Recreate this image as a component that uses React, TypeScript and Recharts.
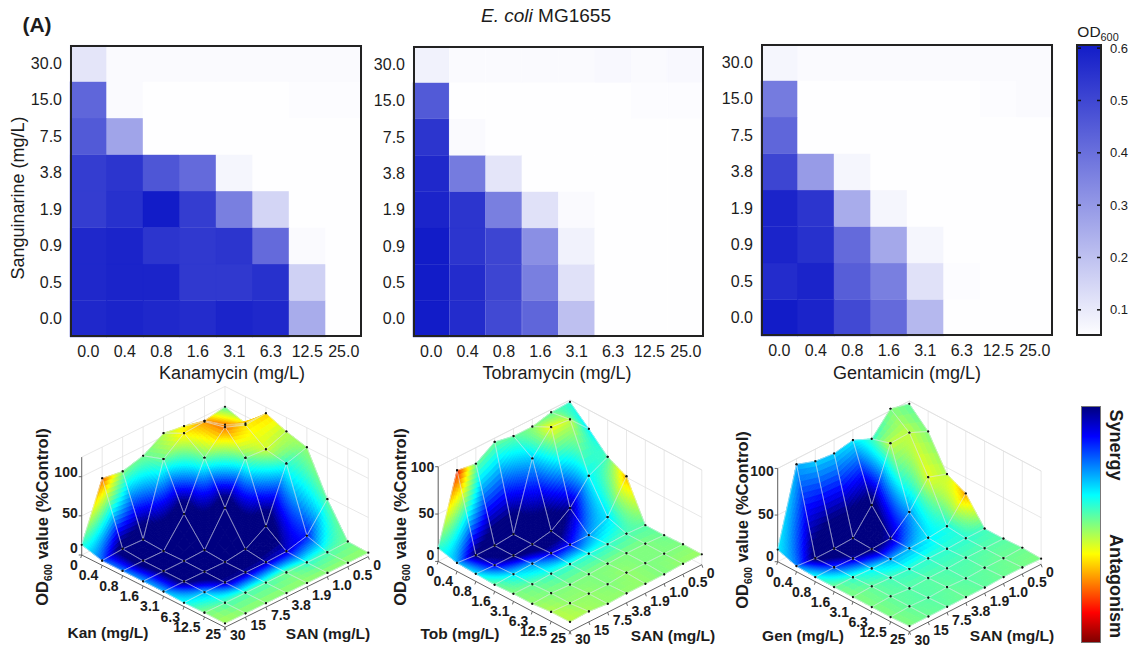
import { Bar, BarChart, Cell, Scatter, ScatterChart, XAxis, YAxis } from "recharts";

// Checkerboard axes
const sanLabels = ["0.0", "0.5", "0.9", "1.9", "3.8", "7.5", "15.0", "30.0"];
const doseLabels = ["0.0", "0.4", "0.8", "1.6", "3.1", "6.3", "12.5", "25.0"];

// OD600 per cell, rows from SAN 0.0 up to 30.0, columns from 0.0 to 25.0
const kanOd = [
  [0.57, 0.58, 0.57, 0.56, 0.58, 0.57, 0.25, 0.05],
  [0.57, 0.58, 0.58, 0.53, 0.53, 0.55, 0.16, 0.05],
  [0.57, 0.58, 0.54, 0.53, 0.54, 0.41, 0.06, 0.05],
  [0.52, 0.55, 0.6, 0.52, 0.36, 0.15, 0.05, 0.05],
  [0.52, 0.54, 0.46, 0.41, 0.07, 0.05, 0.05, 0.05],
  [0.45, 0.27, 0.05, 0.05, 0.05, 0.05, 0.05, 0.05],
  [0.42, 0.06, 0.05, 0.05, 0.05, 0.05, 0.055, 0.055],
  [0.11, 0.06, 0.06, 0.06, 0.06, 0.06, 0.06, 0.06],
];
const tobOd = [
  [0.6, 0.56, 0.49, 0.42, 0.2, 0.05, 0.05, 0.05],
  [0.6, 0.56, 0.5, 0.36, 0.12, 0.05, 0.05, 0.05],
  [0.6, 0.54, 0.5, 0.32, 0.08, 0.05, 0.05, 0.05],
  [0.58, 0.54, 0.36, 0.12, 0.06, 0.05, 0.05, 0.05],
  [0.57, 0.37, 0.11, 0.05, 0.05, 0.05, 0.05, 0.05],
  [0.54, 0.06, 0.05, 0.05, 0.05, 0.05, 0.05, 0.05],
  [0.45, 0.05, 0.05, 0.05, 0.05, 0.05, 0.055, 0.055],
  [0.08, 0.06, 0.06, 0.06, 0.06, 0.065, 0.06, 0.065],
];
const genOd = [
  [0.6, 0.58, 0.49, 0.41, 0.22, 0.05, 0.05, 0.05],
  [0.56, 0.58, 0.44, 0.36, 0.12, 0.055, 0.05, 0.05],
  [0.58, 0.55, 0.41, 0.26, 0.07, 0.05, 0.05, 0.05],
  [0.58, 0.54, 0.25, 0.07, 0.05, 0.05, 0.05, 0.05],
  [0.5, 0.29, 0.07, 0.05, 0.05, 0.05, 0.05, 0.05],
  [0.42, 0.05, 0.05, 0.05, 0.05, 0.05, 0.05, 0.05],
  [0.37, 0.05, 0.05, 0.05, 0.05, 0.05, 0.055, 0.06],
  [0.07, 0.06, 0.06, 0.06, 0.06, 0.06, 0.06, 0.06],
];

// Surface heights (% of control), rows SAN 0..30, columns drug 0..25
const kanHeight = [
  [99, 91, 117, 107, 100, 47, 6, 5],
  [94, 102, 115, 97, 92, 13, 5, 5],
  [100, 119, 125, 99, 25, 6, 5, 5],
  [104, 117, 99, 48, 8.5, 5, 5, 5],
  [88, 97, 40, 7, 5, 5, 5, 5],
  [81, 7, 5.5, 6, 5.5, 5, 5, 5],
  [85, 8, 6, 6, 6, 5.5, 5, 5],
  [13, 6, 6, 6, 6, 5, 5.5, 5],
];
const tobHeight = [
  [98, 80, 61, 51, 10, 10, 11, 11],
  [97, 100, 51, 18, 11, 11, 11, 11],
  [92, 102, 27, 9, 10, 11, 11, 10],
  [92, 79, 13, 9, 10, 10, 11, 10],
  [96, 9, 9, 10, 9, 9, 9, 10],
  [83, 7, 7, 9, 9, 8, 9, 9],
  [86, 7, 7, 8, 8, 9, 9, 11],
  [14, 9, 8, 7, 8, 8, 10, 10],
];
const genHeight = [
  [97, 78, 43, 33, 6, 6, 7, 6],
  [102, 87, 50, 8, 6, 6, 6, 7],
  [80, 86, 23, 6, 5, 6, 6, 7],
  [89, 30, 5, 5, 5, 5, 5, 6],
  [85, 5, 4, 4, 4, 5, 6, 6],
  [87, 4, 4, 4, 5, 4, 5, 6],
  [94, 4, 5, 5, 6, 6, 6, 6],
  [13, 6, 5, 5, 5, 5, 5, 6],
];

// Interaction score at each vertex: 0.5 neutral, 1 antagonism, 0 or below saturates at synergy
const kanScore = [
  [0.45, 0.64, 0.68, 0.55, 0.52, 0.47, 0.48, 0.52],
  [0.72, 0.75, 0.64, 0.58, 0.42, 0.15, 0.45, 0.52],
  [0.62, 0.72, 0.76, 0.48, -0.12, 0.08, 0.42, 0.52],
  [0.55, 0.64, 0.48, -0.12, -0.12, 0.05, 0.48, 0.52],
  [0.48, 0.48, -0.12, -0.12, -0.12, 0.03, 0.45, 0.52],
  [0.5, -0.12, -0.12, -0.12, -0.12, 0.03, 0.45, 0.52],
  [0.78, -0.08, -0.12, -0.05, -0.05, 0.3, 0.45, 0.52],
  [0.42, 0.22, 0.25, 0.28, 0.3, 0.38, 0.5, 0.54],
];
const tobScore = [
  [0.42, 0.35, 0.45, 0.7, 0.46, 0.48, 0.5, 0.53],
  [0.47, 0.56, 0.38, 0.35, 0.45, 0.5, 0.5, 0.52],
  [0.5, 0.62, 0.03, 0.28, 0.42, 0.5, 0.5, 0.5],
  [0.47, 0.33, -0.12, 0.13, 0.4, 0.5, 0.52, 0.52],
  [0.48, -0.12, -0.12, 0.08, 0.42, 0.5, 0.5, 0.52],
  [0.48, -0.12, -0.05, 0.27, 0.42, 0.5, 0.52, 0.52],
  [0.85, -0.03, 0.1, 0.35, 0.47, 0.5, 0.52, 0.54],
  [0.42, 0.3, 0.35, 0.47, 0.5, 0.52, 0.55, 0.56],
];
const genScore = [
  [0.47, 0.5, 0.55, 0.72, 0.44, 0.46, 0.48, 0.5],
  [0.5, 0.56, 0.6, 0.4, 0.42, 0.46, 0.48, 0.49],
  [0.42, 0.57, 0.28, 0.36, 0.42, 0.45, 0.47, 0.48],
  [0.36, -0.05, 0.05, 0.3, 0.42, 0.45, 0.46, 0.47],
  [0.33, -0.15, -0.05, 0.28, 0.42, 0.46, 0.47, 0.48],
  [0.33, -0.15, 0.05, 0.36, 0.44, 0.46, 0.46, 0.47],
  [0.3, -0.05, 0.18, 0.42, 0.47, 0.47, 0.47, 0.48],
  [0.36, 0.25, 0.38, 0.48, 0.5, 0.5, 0.5, 0.5],
];

const surfaceDoseTicks = ["0", "0.4", "0.8", "1.6", "3.1", "6.3", "12.5", "25"];
const surfaceSanTicks = ["0", "0.5", "1.0", "1.9", "3.8", "7.5", "15", "30"];
const surfaceZTicks = [0, 50, 100];
const odTicks = [0.1, 0.2, 0.3, 0.4, 0.5, 0.6];

const FONT = "'Liberation Sans', Arial, sans-serif";
const INK = "#1c1c1c";

const odColor = (od: number) => {
  const t = Math.min(1, Math.max(0, (od - 0.05) / 0.55));
  return `rgb(${Math.round(254 - t * 236)},${Math.round(254 - t * 226)},${Math.round(255 - t * 55)})`;
};

// jet colormap, 0 navy to 1 dark red
const jet = (raw: number) => {
  const v = Math.min(1, Math.max(0, raw));
  const ch = (d: number) => Math.round(255 * Math.min(1, Math.max(0, 1.5 - Math.abs(4 * v - d))));
  return `rgb(${ch(3)},${ch(2)},${ch(1)})`;
};

const Note = ({ x, y, rotate = 0, children, style }: any) => (
  <div
    style={{
      position: "absolute",
      left: x,
      top: y,
      transform: `translate(-50%,-50%) rotate(${rotate}deg)`,
      whiteSpace: "nowrap",
      color: INK,
      ...style,
    }}
  >
    {children}
  </div>
);

const Frame = ({ left, top, width, height, color = "#222" }: any) => (
  <div
    style={{
      position: "absolute",
      left,
      top,
      width,
      height,
      boxSizing: "border-box",
      border: `2px solid ${color}`,
      pointerEvents: "none",
    }}
  />
);

function Checkerboard({ left, top, size, od }: any) {
  const rows = doseLabels.map((dose) => {
    const row: any = { dose };
    sanLabels.forEach((_, r) => (row[`r${r}`] = 1));
    return row;
  });
  return (
    <>
      <div style={{ position: "absolute", left: left - 70, top: top - 45 }}>
        <BarChart
          width={70 + size + 10}
          height={45 + size + 30}
          data={rows}
          barCategoryGap={0}
          margin={{ top: 45, right: 10, bottom: 0, left: 10 }}
        >
          <XAxis
            dataKey="dose"
            interval={0}
            height={30}
            tickLine={false}
            axisLine={false}
            tickMargin={3}
            tick={{ fontSize: 16, fill: INK }}
          />
          <YAxis
            type="number"
            domain={[0, 8]}
            ticks={sanLabels.map((_, r) => r + 0.5)}
            tickFormatter={(v: number) => sanLabels[Math.floor(v)]}
            interval={0}
            width={60}
            tickLine={false}
            axisLine={false}
            tickMargin={2}
            tick={{ fontSize: 16, fill: INK }}
          />
          {sanLabels.map((_, r) => (
            <Bar key={r} dataKey={`r${r}`} stackId="cells" isAnimationActive={false}>
              {doseLabels.map((_, c) => (
                <Cell key={c} fill={odColor(od[r][c])} stroke={odColor(od[r][c])} strokeWidth={0.4} />
              ))}
            </Bar>
          ))}
        </BarChart>
      </div>
      <Frame left={left} top={top} width={size} height={size} />
    </>
  );
}

const SurfaceMark = (props: any) => {
  const { cx, cy, payload: m } = props;
  if (m.kind === "patch") {
    const pts = m.off.map(([dx, dy]: number[]) => `${cx + dx},${cy + dy}`).join(" ");
    return <polygon points={pts} fill={m.fill} stroke={m.fill} strokeWidth={0.9} strokeLinejoin="round" />;
  }
  if (m.kind === "line") {
    return <line x1={cx} y1={cy} x2={cx + m.dx} y2={cy + m.dy} stroke={m.color} strokeWidth={m.w} />;
  }
  if (m.kind === "dot") {
    return <circle cx={cx} cy={cy} r={1.1} fill="#111" />;
  }
  return (
    <text
      x={cx}
      y={cy}
      textAnchor={m.anchor}
      dominantBaseline="central"
      fontSize={14}
      fontWeight="bold"
      fill={INK}
    >
      {m.text}
    </text>
  );
};

function surfaceMarks(cfg: any) {
  const { bx, by, ix, iy, jx, jy, zs, zTop, zLabelDy, height, score } = cfg;
  const at = (i: number, j: number, z: number) => ({
    x: bx + i * ix + j * jx,
    y: by + i * iy + j * jy - z * zs,
  });
  const lerp = (m: number[][], i: number, j: number, u: number, v: number) =>
    (1 - v) * ((1 - u) * m[j][i] + u * m[j][i + 1]) + v * ((1 - u) * m[j + 1][i] + u * m[j + 1][i + 1]);
  const marks: any[] = [];
  const seg = (a: any, b: any, color: string, w: number) =>
    marks.push({ kind: "line", x: a.x, y: a.y, dx: b.x - a.x, dy: b.y - a.y, color, w });

  // back walls
  const wall = "#dedede";
  for (let k = 1; k < 8; k++) {
    seg(at(k, 0, 0), at(k, 0, zTop), wall, 0.7);
    seg(at(0, k, 0), at(0, k, zTop), wall, 0.7);
  }
  seg(at(0, 0, 0), at(0, 0, zTop), wall, 0.7);
  [0, 50, 100, zTop].forEach((z) => {
    seg(at(0, 7, z), at(0, 0, z), wall, 0.7);
    seg(at(0, 0, z), at(7, 0, z), wall, 0.7);
  });

  // floor edges, z axis and their ticks
  const axis = "#555";
  seg(at(0, 7, 0), at(7, 7, 0), axis, 0.9);
  seg(at(7, 7, 0), at(7, 0, 0), axis, 0.9);
  seg(at(0, 7, 0), at(0, 7, zTop), axis, 0.9);
  for (let k = 0; k < 8; k++) {
    const a = at(k, 7, 0);
    const b = at(7, k, 0);
    marks.push({ kind: "line", x: a.x, y: a.y, dx: -1, dy: 3, color: axis, w: 0.9 });
    marks.push({ kind: "line", x: b.x, y: b.y, dx: 1, dy: 3, color: axis, w: 0.9 });
    marks.push({ kind: "text", x: a.x - 4, y: a.y + (k === 7 ? 7 : 10), text: surfaceDoseTicks[k], anchor: "end" });
    marks.push({ kind: "text", x: b.x + 5, y: b.y + 8, text: surfaceSanTicks[k], anchor: "start" });
  }
  surfaceZTicks.forEach((z, n) => {
    const p = at(0, 7, z);
    marks.push({ kind: "line", x: p.x, y: p.y, dx: -3, dy: 0, color: axis, w: 0.9 });
    marks.push({ kind: "text", x: p.x - 4, y: p.y + zLabelDy[n], text: String(z), anchor: "end" });
  });

  // surface, painted from the back corner to the front one
  for (let sum = 0; sum <= 12; sum++) {
    for (let i = 0; i < 7; i++) {
      const j = sum - i;
      if (j < 0 || j > 6) continue;
      // finer patches only where the colour changes a lot inside the cell
      const corners = [score[j][i], score[j][i + 1], score[j + 1][i], score[j + 1][i + 1]];
      const spread = Math.max(...corners) - Math.min(...corners);
      const steps = Math.min(18, Math.max(3, Math.ceil(spread * 32)));
      for (let a = 0; a < steps; a++) {
        for (let b = 0; b < steps; b++) {
          const corner = (p: number, q: number) =>
            at(i + p / steps, j + q / steps, lerp(height, i, j, p / steps, q / steps));
          const c0 = corner(a, b);
          const off = [corner(a, b), corner(a + 1, b), corner(a + 1, b + 1), corner(a, b + 1)].map((c) => [
            c.x - c0.x,
            c.y - c0.y,
          ]);
          const fill = jet(lerp(score, i, j, (a + 0.5) / steps, (b + 0.5) / steps));
          marks.push({ kind: "patch", x: c0.x, y: c0.y, off, fill });
        }
      }
      const v = (p: number, q: number) => at(p, q, height[q][p]);
      const mesh = "rgba(226,230,238,0.75)";
      seg(v(i, j), v(i + 1, j), mesh, 0.8);
      seg(v(i, j), v(i, j + 1), mesh, 0.8);
      seg(v(i + 1, j), v(i + 1, j + 1), mesh, 0.8);
      seg(v(i, j + 1), v(i + 1, j + 1), mesh, 0.8);
      [v(i, j), v(i + 1, j), v(i, j + 1), v(i + 1, j + 1)].forEach((p) =>
        marks.push({ kind: "dot", x: p.x, y: p.y }),
      );
    }
  }
  return marks;
}

function Surface({ left, top, width, height, cfg }: any) {
  return (
    <div style={{ position: "absolute", left, top }}>
      <ScatterChart width={width} height={height} margin={{ top: 0, right: 0, bottom: 0, left: 0 }}>
        <XAxis type="number" dataKey="x" domain={[left, left + width]} hide />
        <YAxis type="number" dataKey="y" domain={[top, top + height]} reversed hide />
        <Scatter data={surfaceMarks(cfg)} shape={SurfaceMark} isAnimationActive={false} />
      </ScatterChart>
    </div>
  );
}

function OdBar() {
  const tick = ({ x, y, payload }: any) => (
    <g>
      <line x1={0} x2={5} y1={y} y2={y} stroke="#111" strokeWidth={1.5} />
      <line x1={21} x2={26} y1={y} y2={y} stroke="#111" strokeWidth={1.5} />
      <text x={x} y={y} dominantBaseline="central" fontSize={13} fill={INK}>
        {payload.value.toFixed(1)}
      </text>
    </g>
  );
  return (
    <>
      <div style={{ position: "absolute", left: 1076, top: 35 }}>
        <BarChart
          width={56}
          height={311}
          data={[{ name: "OD", range: [0.05, 0.606] }]}
          barCategoryGap={0}
          margin={{ top: 10, right: 0, bottom: 10, left: 0 }}
        >
          <defs>
            <linearGradient id="odRamp" x1="0" y1="0" x2="0" y2="1">
              <stop offset="0%" stopColor={odColor(0.606)} />
              <stop offset="100%" stopColor={odColor(0.05)} />
            </linearGradient>
          </defs>
          <XAxis dataKey="name" hide />
          <YAxis
            orientation="right"
            type="number"
            domain={[0.05, 0.606]}
            ticks={odTicks}
            interval={0}
            width={30}
            axisLine={false}
            tickLine={false}
            tickSize={0}
            tickMargin={8}
            tick={tick}
          />
          <Bar dataKey="range" fill="url(#odRamp)" isAnimationActive={false} />
        </BarChart>
      </div>
      <Frame left={1076} top={44} width={26} height={292} />
    </>
  );
}

function SynergyBar() {
  const stops = [0, 0.125, 0.25, 0.375, 0.5, 0.625, 0.75, 0.875, 1];
  return (
    <>
      <div style={{ position: "absolute", left: 1082, top: 407 }}>
        <BarChart
          width={18}
          height={235}
          data={[{ name: "score", span: [0, 1] }]}
          barCategoryGap={0}
          margin={{ top: 0, right: 0, bottom: 0, left: 0 }}
        >
          <defs>
            <linearGradient id="jetRamp" x1="0" y1="0" x2="0" y2="1">
              {stops.map((s) => (
                <stop key={s} offset={`${s * 100}%`} stopColor={jet(s)} />
              ))}
            </linearGradient>
          </defs>
          <XAxis dataKey="name" hide />
          <YAxis type="number" domain={[0, 1]} hide />
          <Bar dataKey="span" fill="url(#jetRamp)" isAnimationActive={false} />
        </BarChart>
      </div>
      <div
        style={{
          position: "absolute",
          left: 1081,
          top: 406,
          width: 20,
          height: 237,
          boxSizing: "border-box",
          border: "1px solid #777",
        }}
      />
    </>
  );
}

const OdLabel = () => (
  <>
    OD<sub style={{ fontSize: "0.62em", lineHeight: 0 }}>600</sub> value (%Control)
  </>
);

export default function App() {
  const boldAxis = { fontWeight: "bold", fontSize: 15.5 };
  const odStyle = { fontWeight: "bold", fontSize: 16.5 };
  const drugLabel = { fontSize: 18 };
  return (
    <div
      style={{
        position: "absolute",
        left: 0,
        top: 0,
        width: 1132,
        height: 651,
        background: "#fff",
        overflow: "hidden",
        fontFamily: FONT,
      }}
    >
      <Note x={37} y={25} style={{ fontWeight: "bold", fontSize: 21 }}>(A)</Note>
      <Note x={546} y={16} style={{ fontSize: 19 }}>
        <i>E. coli</i> MG1655
      </Note>
      <Note x={18} y={198} rotate={-90} style={{ fontSize: 18 }}>Sanguinarine (mg/L)</Note>

      <Checkerboard left={70} top={45} size={292} od={kanOd} />
      <Checkerboard left={413} top={46} size={291} od={tobOd} />
      <Checkerboard left={761} top={44} size={292} od={genOd} />
      <Note x={232} y={373} style={drugLabel}>Kanamycin (mg/L)</Note>
      <Note x={557} y={373} style={drugLabel}>Tobramycin (mg/L)</Note>
      <Note x={907} y={373} style={drugLabel}>Gentamicin (mg/L)</Note>

      <Note x={1098} y={32} style={{ fontSize: 15.5 }}>
        OD<sub style={{ fontSize: "0.7em", lineHeight: 0 }}>600</sub>
      </Note>
      <OdBar />

      <Surface
        left={0}
        top={385}
        width={385}
        height={266}
        cfg={{ bx: 225, by: 484.3, ix: 20.47, iy: 10.33, jx: -20.47, jy: 10.1, zs: 0.783, zTop: 125, zLabelDy: [-7, -3, -5], height: kanHeight, score: kanScore }}
      />
      <Surface
        left={385}
        top={385}
        width={335}
        height={266}
        cfg={{ bx: 570, by: 494.7, ix: 18.83, iy: 10, jx: -18.83, jy: 9.53, zs: 0.947, zTop: 100, zLabelDy: [-6, -1, 0], height: tobHeight, score: tobScore }}
      />
      <Surface
        left={720}
        top={385}
        width={350}
        height={266}
        cfg={{ bx: 909.3, by: 494.3, ix: 18.83, iy: 10, jx: -18.8, jy: 9.63, zs: 0.933, zTop: 100, zLabelDy: [-6, -1, 3], height: genHeight, score: genScore }}
      />

      <Note x={42} y={517} rotate={-90} style={odStyle}><OdLabel /></Note>
      <Note x={400} y={517} rotate={-90} style={odStyle}><OdLabel /></Note>
      <Note x={742} y={520} rotate={-90} style={odStyle}><OdLabel /></Note>

      <Note x={108} y={633} style={boldAxis}>Kan (mg/L)</Note>
      <Note x={328} y={634} style={boldAxis}>SAN (mg/L)</Note>
      <Note x={460} y={634} style={boldAxis}>Tob (mg/L)</Note>
      <Note x={673} y={636} style={boldAxis}>SAN (mg/L)</Note>
      <Note x={803} y={636} style={boldAxis}>Gen (mg/L)</Note>
      <Note x={1012} y={636} style={boldAxis}>SAN (mg/L)</Note>

      <SynergyBar />
      <Note x={1115} y={445} rotate={90} style={{ fontWeight: "bold", fontSize: 18 }}>Synergy</Note>
      <Note x={1115} y={586} rotate={90} style={{ fontWeight: "bold", fontSize: 18 }}>Antagonism</Note>
    </div>
  );
}
